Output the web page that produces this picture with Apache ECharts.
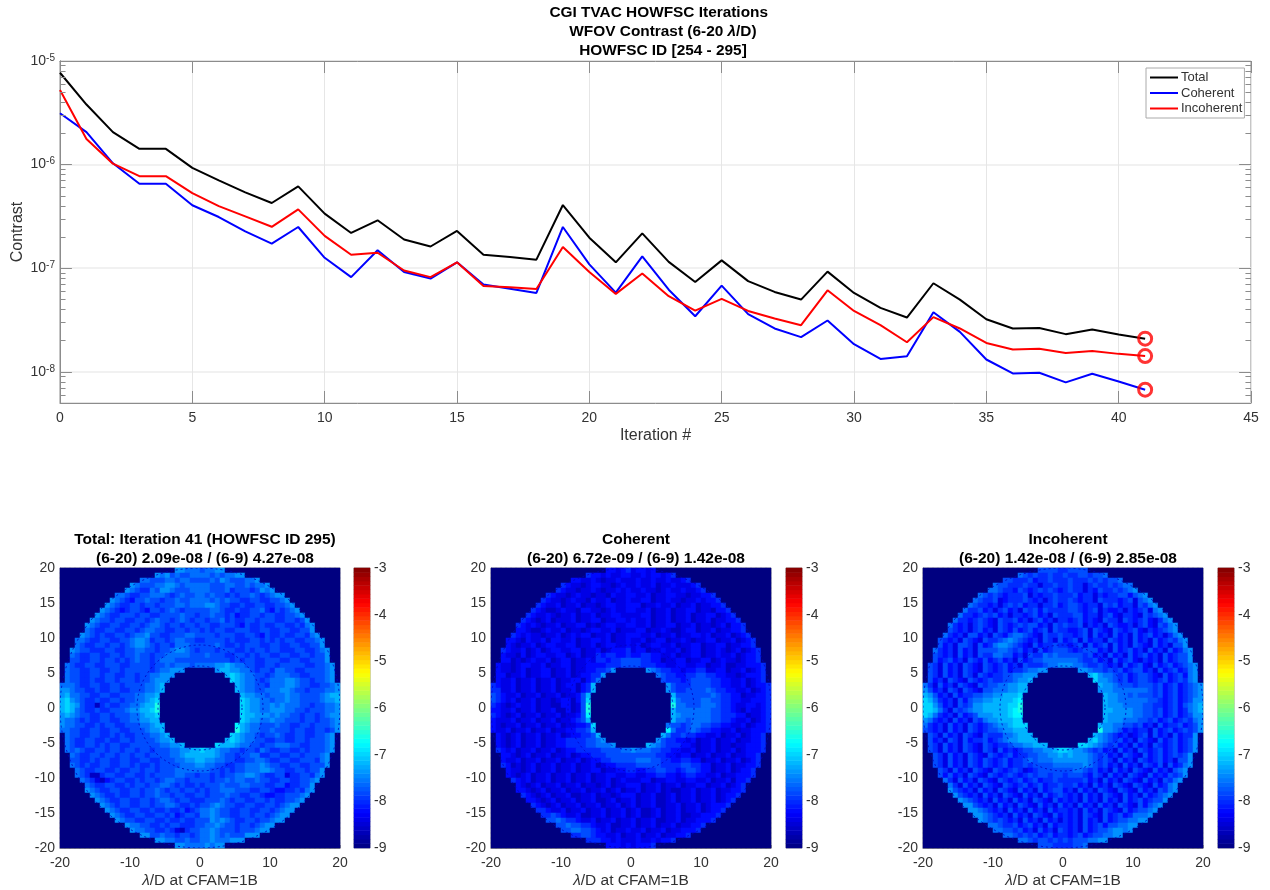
<!DOCTYPE html>
<html><head><meta charset="utf-8"><style>html,body{margin:0;padding:0;background:#fff}#c{width:1270px;height:890px}</style>
<script src="https://cdn.jsdelivr.net/npm/echarts@6/dist/echarts.min.js"></script></head>
<body><div id="c"></div><script>
const iterations=[0,1,2,3,4,5,6,7,8,9,10,11,12,13,14,15,16,17,18,19,20,21,22,23,24,25,26,27,28,29,30,31,32,33,34,35,36,37,38,39,40,41];
const totalContrast=[7.7e-6,3.8e-6,2.06e-6,1.42e-6,1.42e-6,9.3e-7,7.05e-7,5.4e-7,4.26e-7,6.16e-7,3.36e-7,2.19e-7,2.9e-7,1.89e-7,1.62e-7,2.29e-7,1.35e-7,1.28e-7,1.21e-7,4.07e-7,1.97e-7,1.14e-7,2.17e-7,1.15e-7,7.36e-8,1.19e-7,7.5e-8,5.9e-8,4.98e-8,9.27e-8,5.77e-8,4.14e-8,3.34e-8,7.16e-8,4.98e-8,3.22e-8,2.62e-8,2.65e-8,2.31e-8,2.56e-8,2.29e-8,2.09e-8];
const coherentContrast=[3.13e-6,2.06e-6,1.03e-6,6.53e-7,6.53e-7,4.05e-7,3.12e-7,2.27e-7,1.73e-7,2.5e-7,1.26e-7,8.2e-8,1.49e-7,9.2e-8,7.95e-8,1.14e-7,6.95e-8,6.35e-8,5.77e-8,2.5e-7,1.09e-7,5.82e-8,1.3e-7,6.2e-8,3.44e-8,6.8e-8,3.6e-8,2.62e-8,2.16e-8,3.13e-8,1.85e-8,1.33e-8,1.41e-8,3.76e-8,2.43e-8,1.315e-8,9.64e-9,9.8e-9,7.9e-9,9.57e-9,8.07e-9,6.72e-9];
const incoherentContrast=[5.26e-6,1.77e-6,1.02e-6,7.74e-7,7.74e-7,5.3e-7,3.98e-7,3.16e-7,2.51e-7,3.7e-7,2.05e-7,1.35e-7,1.41e-7,9.5e-8,8.2e-8,1.14e-7,6.75e-8,6.55e-8,6.3e-8,1.6e-7,9.2e-8,5.65e-8,8.9e-8,5.37e-8,3.9e-8,5.05e-8,3.87e-8,3.27e-8,2.82e-8,6.12e-8,3.87e-8,2.82e-8,1.93e-8,3.37e-8,2.62e-8,1.9e-8,1.64e-8,1.67e-8,1.52e-8,1.59e-8,1.49e-8,1.42e-8];
const majorDecades=[1e-8,1e-7,1e-6,1e-5];
const minorDecades=[1e-8,1e-7,1e-6];
const minorMultipliers=[2,3,4,5,6,7,8,9];
const lowEndTicks=[6e-9,7e-9,8e-9,9e-9];
const circleRadii=[6,9,20];
const colorStops=['#000080','#0000ff','#0080ff','#00ffff','#80ff80','#ffff00','#ff8000','#ff0000','#800000'];
const levelCodes='0123456789abcdef';
const totalMap=[
'88777|67788','878676677|776767788','776667767766|667687666778','87666778876777|77666776676778','876557688766677|776667566656878',
'77655667776567667|76766565667656788','876546676656676677|776767665566556678','8765566566566677677|7887665565566556678',
'87654566546656765666|66776556556675465678','876556665665566667665|667665645566566556678','8766566556656766567656|6566756556656665566568',
'87655665566567765665665|66556665465565566556578','76556655665677665566566|56566556665566556655668','876565566567786655666776|666566655665465565566578',
'7765566556678875665677665|5666656555665656566556678','7655665665678876566577766|6667655656665566556655668',
'87665556655667766566788765|66656665565665665556655678','76556655665667665667777766|67666556656566556655665668','66556656656567665677766666|66666656566556665566556668',
'765566556665566665667677767|777889877665566566666556678',
'766556655665666665677888000|000899887765665776655666678','766556656655665667788800000|000009a98776656777665566678',
'766556556656665667888000000|000000a98776567778876656678','7776556655665666677890000000|0000000987766577788766556678',
'8876655655665566677890000000|0000000987766777887665666778','8977665566556667788900000000|0000000098877677787766667899',
'9a87655655665667789a00000000|00000000a9887767787766667889','9a98655256556677899c00000000|00000000a9887787877766566778',
'9a9765565566678899ac00000000|00000000a9887788877665666778','8987665566566677899a00000000|00000000a9988878776656656788',
'8776565566556677889900000000|00000000a9887787766656656678','8776655656655666778990000000|0000000b98776667665566566678',
'7766556655665566678890000000|0000000c98776676665665566568','766556655656556667789000000|000000a98776566765566556678',
'765566556556656666788900000|000009a98776655665566566678','765566565665566666677889000|000a99987766566777665566678',
'767655665665665665666778899|a99877665665765566556566678','76556656656656656666778999|99987665667755665566566678',
'66556566556655665566677889|98877665566776556655666578','76565566556656556566667778|87766556677787665566556668',
'7655665565566566566677777|7766565667778876655665668','7652256655665565666677665|6656566778876556635566578',
'765324566556566567766566|665667677667665566556678','76556655656656677656556|56667666776665566455668',
'87655665566566765665665|65667776665566544556578','8765565566566766566556|6566676655665445566678',
'876556655665677656655|566676566556656556678','87656655665667765565|66787665566556656788','8765566556556556456|7787665566556656788',
'876556655665645665|778766556656656788','87665566556556556|66878765566566788','877665565665556|677876656656788',
'87766556532566|77876665666788','886676656656|778767666888','887766766|778777888','88777|78788'];
const coherentMap=[
'44345|34434','544343344|334344345','443343233433|343343343345','54332344332343|34334233433345','543323343233434|334332343343345',
'54332343323324334|43342334433233445','543323433243342334|334423343323343445','5433423342332344334|4423343342334233445',
'54322343324433234334|43342334233442332445','543343233423342334433|334423342334233442345','5432342333423344233443|4334233423342334233445',
'54343233423344232344334|43342334423342332342445','44322343342332344334233|34423343223442334233445','543433233423434423342334|443342334233443423342345',
'4432433424433423344342334|3342344233432334423342345','4323342344334423342344334|3423443342334423344233445',
'54334234234433442334234445|34423343342344233432342345','43324234433442342335455445|44554433423344233433423445','44232343342344233435545566|66554423344233442343323445',
'433234433423344233444455566|665554433443344233422334445',
'433234233442334233445568000|000876554434455334423342345','442334233442334234455800000|000007655445566554433234445',
'433423342334233442457000000|000000655545666655443342345','5433423342334234424590000000|0000000865556666554433423445',
'5533423342334233424590000000|0000000865566667655443342345','6543342334233423346900000000|0000000096666666765544233445',
'6543423342332344246a00000000|00000000a7666677665544334445','5432343342332244236c00000000|00000000c7766677765543344345',
'4433423342334224236c00000000|0000000097777777665543243345','5432342334233423346b00000000|0000000098777777665554423345',
'4333423342334233456900000000|0000000097767777665543342345','43233423342334233445a0000000|0000000766567766554433423445',
'4334233423342334455690000000|0000000b75567655443342334445','432342334233423445569000000|000000975565544334233423445',
'432342334233445555667800000|000008655443423342334233445','432342334233445555667778000|000987655544323342332334445',
'543423342334234455555666677|877766554433423342334234445','44323423342334234455566666|66666554434423342334233445',
'43342334233423342344556666|67776655445544233423342345','54232342334233423342344555|56666655556655442334233445',
'4332342334233423344233445|5445566554566544233423445','4323423342334233423344334|4334455443455443342334445',
'543423342334233423342343|334423344334433423342445','43234233423342332342334|44233423342334423342345',
'44323423342334233423423|34233423223342334233445','5432342334223342332344|4233422342334233423445',
'443234233423342234233|423342234233423342345','54323423342334233423|42334223342334234445','5543342334233423342|3422342334233423445',
'556543342233423342|342234233422334445','66765543342334233|42334223342334445','667665543342233|423342334233445',
'66776654342334|33423342334445','556654433423|342334233445','555443433|343343445','44434|34445'];
const incoherentMap=[
'66665|56666','765655655|655665667','665556455655|565556565667','76655565535565|56553565565677','776554654565654|565535465565678',
'76565455563545565|55645535455664678','765563455565453565|565455365554563678','7655453565645535564|5665455365645536578',
'75564535645365646555|56654563544535456378','755456564535545645365|556645535643554365678','7554565436556453564535|5456454365536545643578',
'75453565436545656645365|65563545365445356436578','65453564536546456456365|54456365436545643545678','754536645365467765436556|554563645364536456453578',
'6545365436556787654536536|4563645536545364536456578','6453665364578876543645565|5456364563645365436453668',
'75453645366667765645364566|65456664536456453645364578','65453645365577664536557676|66665645364536456453645668','64564536546456453645667777|77765564536456435453645668',
'653645365436545645365556778|887765565453645643645645678',
'653645365436545645567788000|000887665656456645364564578','653645365365455667788800000|000009a87765645665436456478',
'645365436545655667889000000|000000a88765645665456456578','7536453654365667788990000000|0000000988766656665645645678',
'8645365365436677788990000000|0000000888777777765645645678','9864536455667788999a00000000|0000000098877676665645645678',
'a97545364677889999ab00000000|0000000098877777766545645688','aa864536568899999aac00000000|0000000098887777665545646789',
'aa975365678899999abc00000000|0000000099888877665645645789','a9754536456888999abb00000000|0000000098888877665645645688',
'875453645365788999aa00000000|0000000098887776656456456578','754536453654567889aaa0000000|0000000988776656453645564568',
'6545364536545667889990000000|0000000c88764545536456456568','653645365436555778999000000|000000987654534563645364558',
'645365364556456788999900000|000009a87656453654364564568','653645365436545567788999000|000aa9876564536453654564568',
'65364536543653645456677889a|a98876564536453654564564568','65364536543654564556677889|89888765645365436456456568',
'65364536546545645567677788|88888765653645365456453668','65364536546545645565666677|77778765645364536546364578',
'6536453654365456534566666|6677656453645365436453678','6464536543654565456566566|5666546536453654364546568',
'753645365436545645645565|555564536453654364536578','75364536543654564564556|55645364536543654364578',
'86545364536543645364566|45364536543654364536578','8654536453654364536456|5453645365436453645678',
'876545364536453654364|545364536453645645668','88654536453654364536|45364536453654364678','8876545364536453645|5453645365436456678',
'887654536453654364|545365436456457778','87656545364536453|54536453645667788','776556456453645|545364564667788',
'77665645364536|54536456678878','776565645645|545645667788','776566565|656667788','66655|55667'];
const panelTitles=['Total: Iteration 41 (HOWFSC ID 295)\n(6-20) 2.09e-08 / (6-9) 4.27e-08','Coherent\n(6-20) 6.72e-09 / (6-9) 1.42e-08','Incoherent\n(6-20) 1.42e-08 / (6-9) 2.85e-08'];

const FONT='"Liberation Sans",Arial,sans-serif',TXT='#333333',AX='#8c8c8c';
const cellCount=56,cats=Array.from({length:cellCount},(_,i)=>i);
function decode(rows){const out=[];rows.forEach((r,j)=>{const p=r.split('|');const row=p[0].padStart(28,'0').slice(-28)+p[1].padEnd(28,'0').slice(0,28);
 for(let i=0;i<cellCount;i++){const k=levelCodes.indexOf(row[i]);out.push([i,cellCount-1-j,-9+Math.max(k,0)*0.2]);}});return out;}
const minorValues=[...lowEndTicks];minorDecades.forEach(d=>minorMultipliers.forEach(m=>minorValues.push(m*d)));
const lineOf=a=>a.map((v,i)=>[iterations[i],v]);
const last=iterations.length-1;
const base={color:TXT,fontFamily:FONT,fontSize:14};
const barSteps=64,barCats=Array.from({length:barSteps},(_,i)=>i),barCells=barCats.map(i=>[0,i,-9+(i+0.5)*6/barSteps]);

const grid=[{left:60,top:61,width:1191,height:342,show:true,borderColor:AX,borderWidth:1,backgroundColor:'#fff',outerBoundsMode:'none'}];
const xAxis=[
 {type:'value',gridIndex:0,min:0,max:45,interval:5,position:'bottom',name:'Iteration #',nameLocation:'middle',nameGap:25,nameTextStyle:{...base,fontSize:16},
  axisLine:{lineStyle:{color:AX}},axisTick:{inside:true,length:12,lineStyle:{color:AX}},axisLabel:{...base,margin:8},splitLine:{show:true,lineStyle:{color:'#e6e6e6',width:1}}},
 {type:'value',gridIndex:0,min:0,max:45,interval:5,position:'top',axisLine:{lineStyle:{color:AX}},axisTick:{inside:true,length:12,lineStyle:{color:AX}},axisLabel:{show:false},splitLine:{show:false}}];
const logFmt=v=>{const e=Math.log10(v),r=Math.round(e);return Math.abs(e-r)<1e-6?'{b|10}{s|'+r+'}':'';};
const yAxis=[
 {type:'log',logBase:10,gridIndex:0,min:5e-9,max:1e-5,position:'left',name:'Contrast',nameLocation:'middle',nameGap:34,nameMoveOverlap:false,nameTextStyle:{...base,fontSize:16},
  axisLine:{lineStyle:{color:AX}},axisTick:{show:false},
  axisLabel:{margin:5,formatter:logFmt,rich:{b:{...base,fontSize:14},s:{...base,fontSize:10,verticalAlign:'top',padding:[0,0,6,0]}}},splitLine:{show:true,lineStyle:{color:'#ececec',width:1.5}}},
 {type:'log',logBase:10,gridIndex:0,min:5e-9,max:1e-5,position:'right',axisLine:{lineStyle:{color:AX}},axisTick:{show:false},axisLabel:{show:false},splitLine:{show:false}}];
const title=[{text:'CGI TVAC HOWFSC Iterations\n  WFOV Contrast (6-20 {l|\u03bb}/D)\n  HOWFSC ID [254 - 295]',left:653.7,top:-1.5,textAlign:'center',
 textStyle:{color:'#000',fontFamily:FONT,fontSize:15.4,fontWeight:'bold',lineHeight:19,rich:{l:{color:'#000',fontFamily:FONT,fontSize:15.4,fontWeight:'bold',fontStyle:'italic',lineHeight:19}}}}];
const minorDots=minorValues.map(v=>({yAxis:v}));
const tickStubs=[];
minorValues.forEach(v=>{tickStubs.push([{xAxis:0,yAxis:v},{xAxis:0.21,yAxis:v}]);tickStubs.push([{xAxis:44.79,yAxis:v},{xAxis:45,yAxis:v}]);});
majorDecades.forEach(v=>{tickStubs.push([{xAxis:0,yAxis:v},{xAxis:0.45,yAxis:v}]);tickStubs.push([{xAxis:44.55,yAxis:v},{xAxis:45,yAxis:v}]);});
const series=[
 {type:'line',name:'guides',xAxisIndex:0,yAxisIndex:0,data:[],silent:true,z:1,markLine:{silent:true,symbol:'none',animation:false,label:{show:false},lineStyle:{color:'#dcdcdc',type:'dotted',width:1},data:minorDots}},
 {type:'line',name:'ticks',xAxisIndex:0,yAxisIndex:0,data:[],silent:true,z:1,markLine:{silent:true,symbol:'none',animation:false,label:{show:false},lineStyle:{color:AX,type:'solid',width:1},data:tickStubs}},
 {type:'line',name:'Total',xAxisIndex:0,yAxisIndex:0,data:lineOf(totalContrast),showSymbol:false,lineStyle:{color:'#000',width:2},itemStyle:{color:'#000'},z:3},
 {type:'line',name:'Coherent',xAxisIndex:0,yAxisIndex:0,data:lineOf(coherentContrast),showSymbol:false,lineStyle:{color:'#0000ff',width:2},itemStyle:{color:'#0000ff'},z:3},
 {type:'line',name:'Incoherent',xAxisIndex:0,yAxisIndex:0,data:lineOf(incoherentContrast),showSymbol:false,lineStyle:{color:'#ff0000',width:2},itemStyle:{color:'#ff0000'},z:3},
 {type:'scatter',name:'Latest',xAxisIndex:0,yAxisIndex:0,symbol:'circle',symbolSize:13,z:4,itemStyle:{color:'rgba(0,0,0,0)',borderColor:'#ff0000',borderWidth:3},
  data:[[iterations[last],totalContrast[last]],[iterations[last],coherentContrast[last]],[iterations[last],incoherentContrast[last]]]}];
const visualMap=[];
const panels=[{left:60,bar:354,map:totalMap},{left:491,bar:786,map:coherentMap},{left:923,bar:1218,map:incoherentMap}];
panels.forEach((p,n)=>{
 const g=grid.length;
 grid.push({left:p.left,top:568,width:280,height:280,show:true,borderColor:'#9a9a9a',borderWidth:1,outerBoundsMode:'none'});
 const cx=xAxis.length,cy=yAxis.length;
 xAxis.push({type:'category',gridIndex:g,data:cats,show:false});
 yAxis.push({type:'category',gridIndex:g,data:cats,show:false});
 xAxis.push({type:'value',gridIndex:g,min:-20,max:20,interval:10,position:'bottom',name:'{l|\u03bb}/D at CFAM=1B',nameLocation:'middle',nameGap:25,
  nameTextStyle:{...base,fontSize:15.5,rich:{l:{...base,fontSize:15.5,fontStyle:'italic'}}},axisLine:{lineStyle:{color:AX}},axisTick:{inside:true,length:3,lineStyle:{color:AX}},axisLabel:{...base,margin:8},splitLine:{show:false}});
 yAxis.push({type:'value',gridIndex:g,min:-20,max:20,interval:5,position:'left',axisLine:{lineStyle:{color:AX}},axisTick:{inside:true,length:3,lineStyle:{color:AX}},axisLabel:{...base,margin:5},splitLine:{show:false}});
 const si=series.length;
 series.push({type:'heatmap',name:'map'+n,xAxisIndex:cx,yAxisIndex:cy,data:decode(p.map),progressive:0,silent:true,z:2,itemStyle:{borderWidth:0}});
 series.push({type:'custom',name:'rings'+n,xAxisIndex:cx+1,yAxisIndex:cy+1,data:circleRadii.map(r=>[r,r]),silent:true,z:3,clip:true,
  renderItem:(params,api)=>{const r=api.value(0),c=api.coord([0,0]),s=api.size([r,r]);
   return {type:'circle',shape:{cx:c[0],cy:c[1],r:s[0]},style:{fill:'none',stroke:'#0000c0',lineWidth:0.9,lineDash:[2,3]}};}});
 const b=grid.length;
 grid.push({left:p.bar,top:568,width:16,height:280,show:true,borderColor:'#9a9a9a',borderWidth:1,outerBoundsMode:'none'});
 const bx=xAxis.length,by=yAxis.length;
 xAxis.push({type:'category',gridIndex:b,data:[0],show:false});
 yAxis.push({type:'category',gridIndex:b,data:barCats,show:false});
 yAxis.push({type:'value',gridIndex:b,min:-9,max:-3,interval:1,position:'right',axisLine:{show:false},axisTick:{show:false},axisLabel:{...base,margin:4},splitLine:{show:false}});
 const sb=series.length;
 series.push({type:'heatmap',name:'colorbar'+n,xAxisIndex:bx,yAxisIndex:by,data:barCells,progressive:0,silent:true,z:2,itemStyle:{borderWidth:0}});
 visualMap.push({type:'continuous',show:false,seriesIndex:[si,sb],min:-9,max:-3,inRange:{color:colorStops}});
 title.push({text:panelTitles[n],left:p.left+140,top:525,textAlign:'center',textStyle:{color:'#000',fontFamily:FONT,fontSize:15.5,fontWeight:'bold',lineHeight:19}});
});
const chart=echarts.init(document.getElementById('c'),null,{renderer:'canvas',width:1270,height:890});
chart.setOption({animation:false,backgroundColor:'#fff',title,grid,xAxis,yAxis,series,visualMap,
 legend:{data:['Total','Coherent','Incoherent'],orient:'vertical',left:1146,top:68,itemWidth:28,itemHeight:2,itemGap:2.5,padding:[3,2,3,4],icon:'rect',backgroundColor:'#fff',borderColor:'#aaaaaa',borderWidth:1,z:10,selectedMode:false,textStyle:{color:TXT,fontFamily:FONT,fontSize:13,padding:[0,0,0,-2],lineHeight:13}}});
</script></body></html>
